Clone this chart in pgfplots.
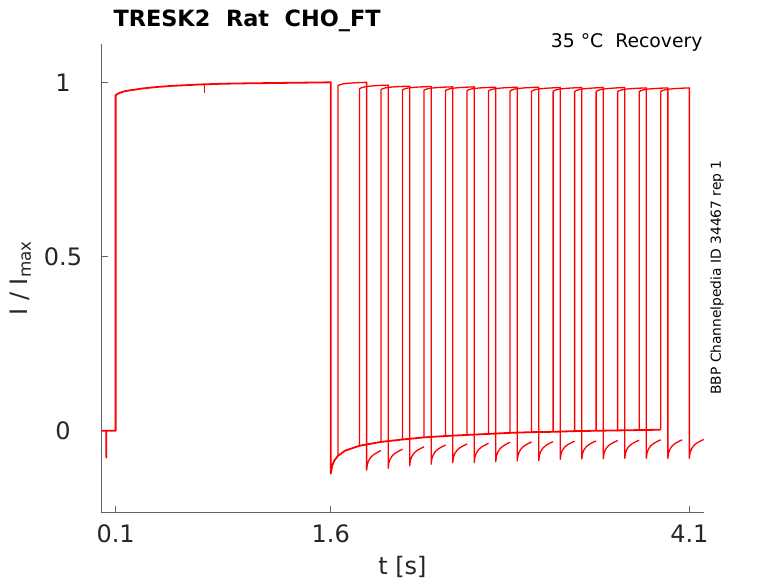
\documentclass[border=0pt]{standalone}
\usepackage{pgfplots}
\pgfplotsset{compat=1.18}
\usepackage{fontspec}
\setmainfont{DejaVu Sans}
\definecolor{tickgray}{RGB}{38,38,38}
\definecolor{axgray}{RGB}{100,100,100}
\begin{document}
\begin{tikzpicture}
\useasboundingbox (0,0) rectangle (778pt,583pt);
\begin{axis}[
  at={(101.3pt,70.7pt)}, anchor=south west,
  scale only axis, width=602.4pt, height=468.3pt,
  xmin=0, xmax=4.2, ymin=-0.234, ymax=1.11,
  axis line style={draw=none},
  tick pos=left, clip=false,
  xtick={0.1,1.6,4.1}, xticklabels={0.1,1.6,4.1},
  ytick={0,0.5,1}, yticklabels={0,0.5,1},
  tick align=inside, major tick length=6.3pt,
  tick style={axgray, line width=0.6pt},
  tick label style={font=\fontsize{24}{28}\selectfont, text=tickgray},
  xticklabel style={anchor=center, yshift=-21.4pt},
  yticklabel style={anchor=center, xshift=-38.3pt},
  xlabel={t [s]}, ylabel={I / I\textsubscript{max}},
  label style={font=\fontsize{24}{28}\selectfont, text=tickgray},
  xlabel style={at={(axis description cs:0.5,-0.1168)}, anchor=center},
  ylabel style={at={(axis description cs:-0.1233,0.5)}, anchor=base},
  every axis plot/.append style={line join=round},
]
\draw[axgray, line width=0.6pt, line cap=butt] (axis cs:0,1.11) -- (axis cs:0,-0.234) -- (axis cs:4.2,-0.234);
% common part: holding, first pulse, tail
\addplot[red, line width=1.8pt] coordinates {
(0,0)(0.035,0)(0.035,-0.077)(0.035,0)(0.1,0)(0.1,0.963)(0.11,0.966)(0.13,0.970)(0.16,0.974)
(0.2,0.977)(0.25,0.980)(0.3,0.983)(0.4,0.987)(0.5,0.990)(0.6,0.992)(0.7,0.994)(0.85,0.996)
(1.0,0.997)(1.2,0.998)(1.4,0.999)(1.6,1.0)(1.6,-0.123)(1.61,-0.100)(1.625,-0.085)(1.65,-0.072)
(1.7,-0.057)(1.8,-0.043)(1.95,-0.032)(2.1,-0.025)(2.25,-0.019)(2.4,-0.015)(2.55,-0.012)
(2.7,-0.009)(2.85,-0.006)(3.0,-0.004)(3.15,-0.003)(3.3,-0.001)(3.45,0.000)(3.6,0.001)
(3.75,0.002)(3.9,0.003)};
\addplot[red, line width=0.8pt] coordinates {(0.716,0.994)(0.716,0.970)};
% second pulses and recoveries
\addplot[red, line width=1.3pt] coordinates {(1.65,-0.072)(1.65,0.990)(1.66,0.9925)(1.68,0.995)(1.71,0.9968)(1.75,0.9982)(1.80,0.9993)(1.85,1.000)
(1.85,-0.113)(1.855,-0.0962)(1.865,-0.085)(1.88,-0.0755)(1.90,-0.0682)(1.925,-0.062)(1.95,-0.057)};
\addplot[red, line width=1.3pt] coordinates {(1.80,-0.043)(1.80,0.981)(1.81,0.9838)(1.83,0.9865)(1.86,0.9885)(1.90,0.990)(1.95,0.9912)(2.00,0.992)
(2.00,-0.108)(2.005,-0.0915)(2.015,-0.0805)(2.03,-0.0712)(2.05,-0.064)(2.075,-0.058)(2.10,-0.053)};
\addplot[red, line width=1.3pt] coordinates {(1.95,-0.032)(1.95,0.979)(1.96,0.9815)(1.98,0.984)(2.01,0.9858)(2.05,0.9872)(2.10,0.9883)(2.15,0.989)
(2.15,-0.101)(2.155,-0.0845)(2.165,-0.0735)(2.18,-0.0642)(2.20,-0.057)(2.225,-0.051)(2.25,-0.046)};
\addplot[red, line width=1.3pt] coordinates {(2.10,-0.025)(2.10,0.978)(2.11,0.9805)(2.13,0.983)(2.16,0.9848)(2.20,0.9862)(2.25,0.9873)(2.30,0.988)
(2.30,-0.096)(2.305,-0.0795)(2.315,-0.0685)(2.33,-0.0592)(2.35,-0.052)(2.375,-0.046)(2.40,-0.041)};
\addplot[red, line width=1.3pt] coordinates {(2.25,-0.019)(2.25,0.977)(2.26,0.9795)(2.28,0.982)(2.31,0.9838)(2.35,0.9852)(2.40,0.9863)(2.45,0.987)
(2.45,-0.092)(2.455,-0.0758)(2.465,-0.065)(2.48,-0.0558)(2.50,-0.0488)(2.525,-0.0429)(2.55,-0.038)};
\addplot[red, line width=1.3pt] coordinates {(2.40,-0.015)(2.40,0.976)(2.41,0.9788)(2.43,0.9815)(2.46,0.9835)(2.50,0.985)(2.55,0.9862)(2.60,0.987)
(2.60,-0.091)(2.605,-0.0745)(2.615,-0.0635)(2.63,-0.0542)(2.65,-0.047)(2.675,-0.041)(2.70,-0.036)};
\addplot[red, line width=1.3pt] coordinates {(2.55,-0.012)(2.55,0.976)(2.56,0.9785)(2.58,0.981)(2.61,0.9828)(2.65,0.9842)(2.70,0.9853)(2.75,0.986)
(2.75,-0.089)(2.755,-0.0722)(2.765,-0.061)(2.78,-0.0515)(2.80,-0.0442)(2.825,-0.038)(2.85,-0.033)};
\addplot[red, line width=1.3pt] coordinates {(2.70,-0.009)(2.70,0.975)(2.71,0.9778)(2.73,0.9805)(2.76,0.9825)(2.80,0.984)(2.85,0.9852)(2.90,0.986)
(2.90,-0.087)(2.905,-0.0705)(2.915,-0.0595)(2.93,-0.0502)(2.95,-0.043)(2.975,-0.037)(3.00,-0.032)};
\addplot[red, line width=1.3pt] coordinates {(2.85,-0.006)(2.85,0.975)(2.86,0.9778)(2.88,0.9805)(2.91,0.9825)(2.95,0.984)(3.00,0.9852)(3.05,0.986)
(3.05,-0.086)(3.055,-0.0695)(3.065,-0.0585)(3.08,-0.0492)(3.10,-0.042)(3.125,-0.036)(3.15,-0.031)};
\addplot[red, line width=1.3pt] coordinates {(3.00,-0.004)(3.00,0.974)(3.01,0.9768)(3.03,0.9795)(3.06,0.9815)(3.10,0.983)(3.15,0.9842)(3.20,0.985)
(3.20,-0.082)(3.205,-0.0664)(3.215,-0.056)(3.23,-0.0472)(3.25,-0.0404)(3.275,-0.0347)(3.30,-0.030)};
\addplot[red, line width=1.3pt] coordinates {(3.15,-0.003)(3.15,0.974)(3.16,0.9768)(3.18,0.9795)(3.21,0.9815)(3.25,0.983)(3.30,0.9842)(3.35,0.985)
(3.35,-0.081)(3.355,-0.0654)(3.365,-0.055)(3.38,-0.0462)(3.40,-0.0394)(3.425,-0.0337)(3.45,-0.029)};
\addplot[red, line width=1.3pt] coordinates {(3.30,-0.001)(3.30,0.973)(3.31,0.976)(3.33,0.979)(3.36,0.9812)(3.40,0.9828)(3.45,0.9842)(3.50,0.985)
(3.50,-0.080)(3.505,-0.0644)(3.515,-0.054)(3.53,-0.0452)(3.55,-0.0384)(3.575,-0.0327)(3.60,-0.028)};
\addplot[red, line width=1.3pt] coordinates {(3.45,0.000)(3.45,0.973)(3.46,0.976)(3.48,0.979)(3.51,0.9812)(3.55,0.9828)(3.60,0.9842)(3.65,0.985)
(3.65,-0.079)(3.655,-0.0634)(3.665,-0.053)(3.68,-0.0442)(3.70,-0.0374)(3.725,-0.0317)(3.75,-0.027)};
\addplot[red, line width=1.3pt] coordinates {(3.60,0.001)(3.60,0.973)(3.61,0.9758)(3.63,0.9785)(3.66,0.9805)(3.70,0.982)(3.75,0.9832)(3.80,0.984)
(3.80,-0.079)(3.805,-0.0631)(3.815,-0.0525)(3.83,-0.0435)(3.85,-0.0366)(3.875,-0.0308)(3.90,-0.026)};
\addplot[red, line width=1.3pt] coordinates {(3.75,0.002)(3.75,0.973)(3.76,0.9758)(3.78,0.9785)(3.81,0.9805)(3.85,0.982)(3.90,0.9832)(3.95,0.984)
(3.95,-0.079)(3.955,-0.0631)(3.965,-0.0525)(3.98,-0.0435)(4.00,-0.0366)(4.025,-0.0308)(4.05,-0.026)};
\addplot[red, line width=1.3pt] coordinates {(3.90,0.003)(3.90,0.973)(3.91,0.9758)(3.93,0.9785)(3.96,0.9805)(4.00,0.982)(4.05,0.9832)(4.10,0.984)
(4.10,-0.079)(4.105,-0.0628)(4.115,-0.052)(4.13,-0.0428)(4.15,-0.0358)(4.175,-0.0299)(4.20,-0.025)};
\end{axis}
\node[anchor=base west, font=\bfseries\fontsize{22.4}{27}\selectfont] at (110pt,556pt) {TRESK2\ \ Rat\ \ CHO\_FT};
\node[anchor=base east, font=\fontsize{18.8}{22}\selectfont] at (706pt,535pt) {35 °C\ \ Recovery};
\node[rotate=90, anchor=center, font=\fontsize{13.8}{16}\selectfont] at (717pt,305.5pt) {BBP Channelpedia ID 34467 rep 1};
\end{tikzpicture}
\end{document}
